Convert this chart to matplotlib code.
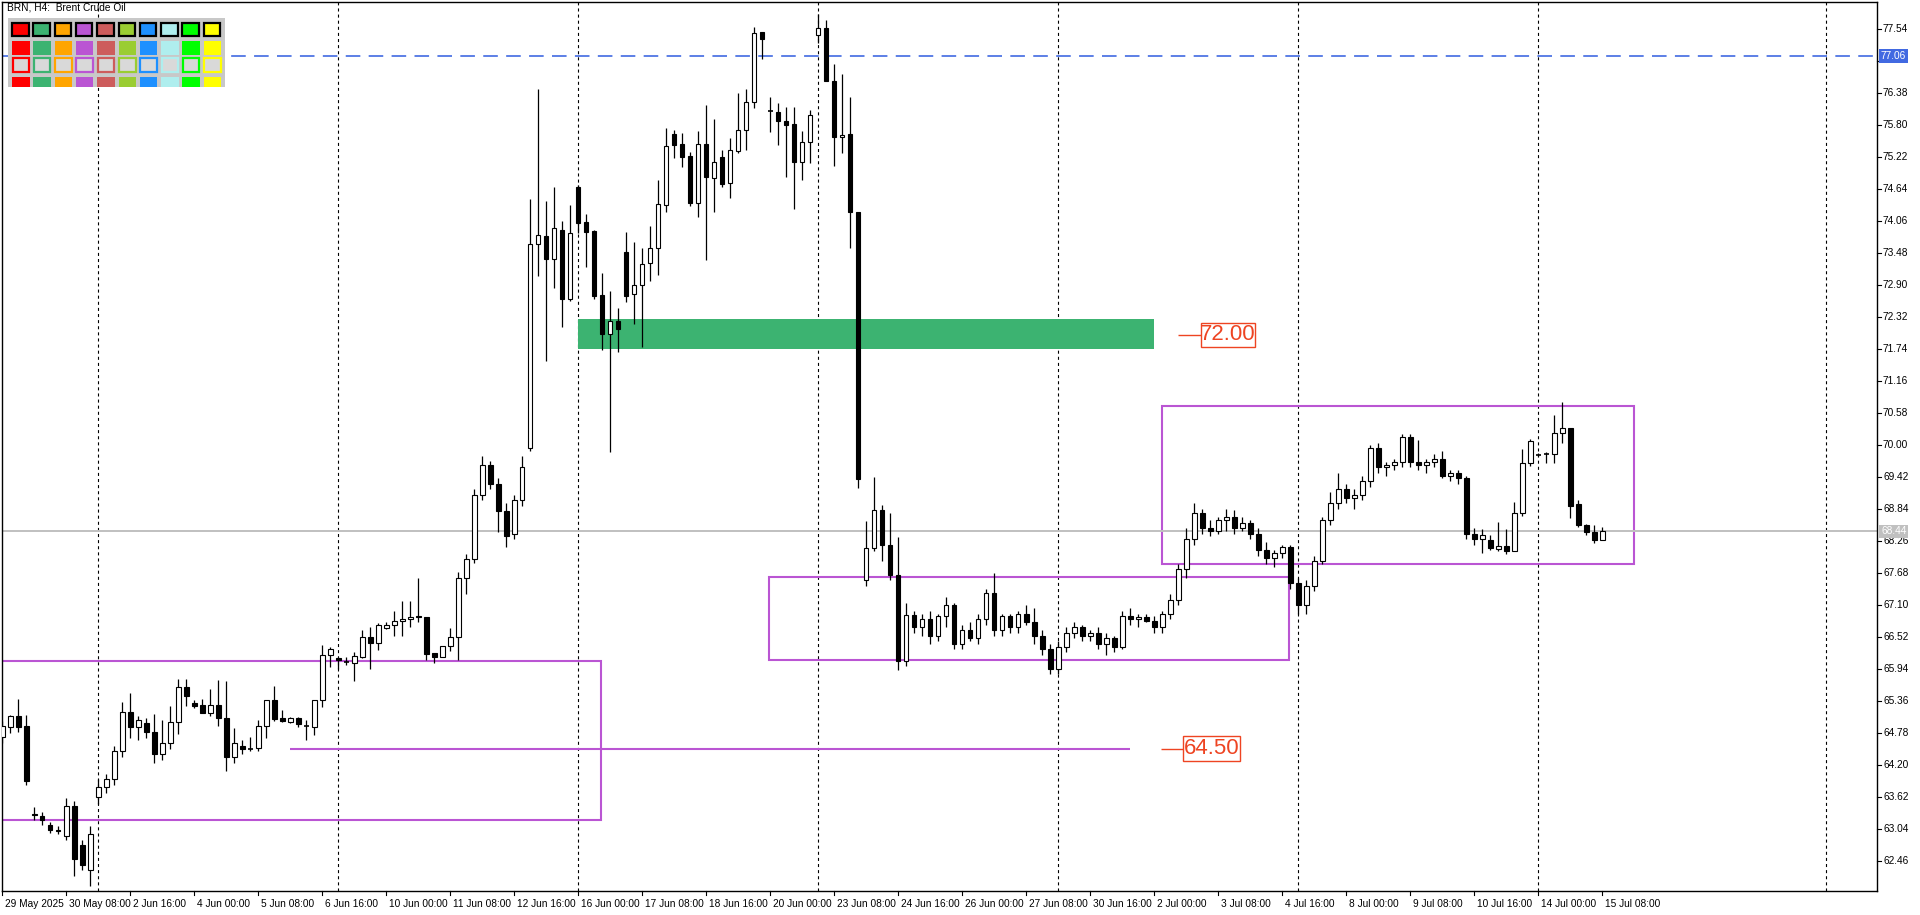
import matplotlib
matplotlib.use('Agg')
import matplotlib.pyplot as plt
from matplotlib.patches import Rectangle
import numpy as np

plt.rcParams['lines.scale_dashes'] = False
FONT = ['Liberation Sans', 'DejaVu Sans']
NARROW = ['Liberation Sans Narrow', 'Liberation Sans', 'DejaVu Sans']

# BRN H4 candles, bar 0 = 29 May 00:00
opens = [64.72, 64.90, 65.10, 64.91, 63.32, 63.28, 63.12, 63.02, 62.92, 63.46,
         62.75, 62.30, 63.62, 63.80, 63.95, 64.45, 65.16, 64.89, 64.96, 64.80,
         64.40, 64.60, 64.98, 65.61, 65.33, 65.29, 65.15, 65.29, 65.06, 64.35,
         64.55, 64.50, 64.52, 64.91, 65.38, 65.05, 64.99, 65.05, 64.92, 64.90,
         65.38, 66.19, 66.14, 66.08, 66.06, 66.17, 66.52, 66.41, 66.69, 66.74,
         66.81, 66.85, 66.90, 66.88, 66.23, 66.17, 66.36, 66.52, 67.60, 67.93,
         69.10, 69.65, 69.30, 68.80, 68.40, 69.00, 69.95, 73.64, 73.79, 73.38,
         73.91, 72.66, 74.69, 74.04, 73.88, 72.72, 72.02, 72.25, 73.50, 72.75,
         72.90, 73.30, 73.57, 74.35, 75.64, 75.46, 75.24, 74.40, 75.47, 74.85,
         75.22, 74.76, 75.34, 75.71, 76.22, 77.49, 76.06, 76.05, 75.87, 75.82,
         75.13, 75.49, 77.43, 77.56, 76.60, 75.59, 75.64, 74.23, 67.55, 68.13,
         68.82, 68.20, 67.65, 66.09, 66.92, 66.70, 66.85, 66.55, 66.90, 67.10,
         66.40, 66.65, 66.50, 66.85, 67.32, 66.65, 66.90, 66.70, 66.95, 66.80,
         66.55, 66.30, 65.95, 66.35, 66.60, 66.70, 66.55, 66.60, 66.40, 66.50,
         66.35, 66.90, 66.85, 66.88, 66.82, 66.70, 66.95, 67.20, 67.75, 68.30,
         68.78, 68.50, 68.45, 68.65, 68.70, 68.50, 68.60, 68.40, 68.10, 67.95,
         68.05, 68.15, 67.50, 67.10, 67.45, 67.90, 68.65, 68.95, 69.20, 69.05,
         69.10, 69.35, 69.95, 69.60, 69.65, 69.70, 70.15, 69.70, 69.65, 69.70,
         69.75, 69.45, 69.50, 69.40, 68.40, 68.31, 68.28, 68.12, 68.17, 68.09,
         68.77, 69.67, 69.82, 69.84, 69.85, 70.23, 70.31, 68.93, 68.55, 68.42,
         68.29]
highs = [65.00, 65.12, 65.40, 65.11, 63.45, 63.35, 63.18, 63.10, 63.60, 63.55,
         62.85, 63.10, 63.95, 64.05, 64.55, 65.34, 65.51, 65.09, 65.05, 65.13,
         65.02, 65.27, 65.76, 65.76, 65.38, 65.40, 65.58, 65.75, 65.72, 64.87,
         64.65, 64.72, 65.02, 65.38, 65.64, 65.20, 65.08, 65.08, 65.02, 65.38,
         66.38, 66.35, 66.17, 66.16, 66.26, 66.65, 66.70, 66.77, 66.79, 67.00,
         67.18, 67.18, 67.59, 66.89, 66.24, 66.37, 66.68, 67.71, 68.03, 69.20,
         69.80, 69.72, 69.40, 68.95, 69.10, 69.80, 74.46, 76.45, 74.42, 74.69,
         74.06, 74.35, 74.72, 74.20, 73.90, 73.12, 72.80, 72.49, 73.86, 73.68,
         73.57, 73.97, 74.81, 75.75, 75.72, 75.66, 75.32, 75.70, 76.17, 75.91,
         75.35, 75.57, 76.39, 76.46, 77.58, 77.49, 76.31, 76.20, 76.13, 76.13,
         75.70, 76.08, 77.82, 77.71, 76.91, 76.73, 76.31, 74.23, 68.62, 69.42,
         68.91, 68.77, 68.34, 67.14, 67.00, 66.95, 67.00, 66.95, 67.25, 67.15,
         66.75, 66.80, 66.95, 67.40, 67.68, 66.95, 66.95, 67.00, 67.10, 67.05,
         66.65, 66.40, 66.45, 66.70, 66.80, 66.75, 66.65, 66.70, 66.60, 66.55,
         67.00, 67.05, 66.95, 66.95, 66.90, 67.00, 67.30, 67.85, 68.50, 68.95,
         68.85, 68.65, 68.70, 68.85, 68.83, 68.70, 68.65, 68.50, 68.25, 68.10,
         68.20, 68.20, 67.60, 67.55, 68.00, 68.70, 69.15, 69.49, 69.30, 69.20,
         69.45, 70.00, 70.05, 69.70, 69.75, 70.20, 70.20, 70.10, 69.75, 69.85,
         69.90, 69.55, 69.55, 69.45, 68.50, 68.49, 68.37, 68.61, 68.49, 68.98,
         69.93, 70.11, 69.86, 69.88, 70.55, 70.78, 70.31, 69.01, 68.57, 68.55,
         68.51]
lows = [64.60, 64.78, 64.81, 63.85, 63.20, 63.12, 62.98, 62.95, 62.85, 62.20,
        62.30, 62.02, 63.50, 63.70, 63.85, 64.35, 64.70, 64.66, 64.70, 64.25,
        64.30, 64.50, 64.76, 65.28, 65.24, 65.14, 65.10, 64.92, 64.10, 64.25,
        64.40, 64.45, 64.45, 64.69, 65.00, 64.99, 64.96, 64.89, 64.66, 64.75,
        65.25, 65.99, 65.95, 66.01, 65.73, 66.14, 65.95, 66.29, 66.67, 66.55,
        66.55, 66.71, 66.79, 66.11, 66.06, 66.16, 66.28, 66.11, 67.31, 67.86,
        69.00, 69.20, 68.42, 68.15, 68.30, 68.90, 69.90, 73.06, 71.53, 72.85,
        72.14, 72.62, 73.85, 73.24, 72.66, 71.72, 69.87, 71.69, 72.60, 72.20,
        71.79, 72.97, 73.09, 74.23, 75.20, 75.05, 74.34, 74.14, 73.35, 74.23,
        74.69, 74.49, 75.30, 75.36, 76.12, 77.01, 75.68, 75.45, 74.87, 74.29,
        74.80, 75.12, 77.30, 76.61, 75.07, 75.29, 73.58, 69.23, 67.45, 68.09,
        67.90, 67.55, 65.92, 66.00, 66.60, 66.55, 66.40, 66.45, 66.70, 66.30,
        66.30, 66.45, 66.40, 66.75, 66.55, 66.55, 66.60, 66.60, 66.75, 66.40,
        66.20, 65.85, 65.85, 66.25, 66.50, 66.45, 66.45, 66.30, 66.20, 66.25,
        66.30, 66.75, 66.70, 66.80, 66.60, 66.60, 66.85, 67.10, 67.60, 68.20,
        68.40, 68.35, 68.40, 68.45, 68.40, 68.45, 68.30, 68.00, 67.85, 67.80,
        67.95, 67.40, 66.95, 66.95, 67.35, 67.85, 68.55, 68.85, 68.95, 68.85,
        69.00, 69.25, 69.50, 69.45, 69.55, 69.60, 69.60, 69.55, 69.50, 69.60,
        69.40, 69.35, 69.30, 68.30, 68.20, 68.04, 68.10, 68.09, 68.03, 68.08,
        68.72, 69.63, 69.80, 69.67, 69.67, 70.05, 68.69, 68.52, 68.38, 68.22,
        68.28]
closes = [64.91, 65.10, 64.90, 63.92, 63.30, 63.20, 63.02, 63.00, 63.46, 62.50,
          62.40, 62.95, 63.80, 63.95, 64.45, 65.16, 64.89, 65.02, 64.80, 64.40,
          64.60, 64.99, 65.61, 65.46, 65.28, 65.15, 65.29, 65.05, 64.35, 64.60,
          64.50, 64.52, 64.91, 65.38, 65.04, 65.01, 65.05, 64.94, 64.92, 65.38,
          66.20, 66.31, 66.11, 66.06, 66.18, 66.52, 66.41, 66.74, 66.75, 66.82,
          66.85, 66.89, 66.88, 66.21, 66.17, 66.37, 66.52, 67.60, 67.93, 69.10,
          69.65, 69.30, 68.80, 68.35, 69.00, 69.60, 73.64, 73.81, 73.38, 73.93,
          72.66, 73.84, 74.03, 73.87, 72.71, 72.02, 72.25, 72.11, 72.71, 72.90,
          73.28, 73.57, 74.37, 75.42, 75.45, 75.23, 74.40, 75.47, 74.87, 75.13,
          74.74, 75.35, 75.71, 76.22, 77.47, 77.37, 76.05, 75.87, 75.81, 75.14,
          75.49, 75.98, 77.57, 76.61, 75.59, 75.63, 74.22, 69.39, 68.13, 68.82,
          68.20, 67.65, 66.09, 66.92, 66.70, 66.85, 66.55, 66.90, 67.10, 66.40,
          66.65, 66.50, 66.85, 67.32, 66.65, 66.90, 66.70, 66.95, 66.80, 66.55,
          66.30, 65.95, 66.35, 66.60, 66.70, 66.55, 66.60, 66.40, 66.50, 66.35,
          66.90, 66.85, 66.88, 66.82, 66.70, 66.95, 67.20, 67.75, 68.30, 68.78,
          68.50, 68.45, 68.65, 68.70, 68.50, 68.60, 68.40, 68.10, 67.95, 68.05,
          68.15, 67.50, 67.10, 67.45, 67.90, 68.65, 68.95, 69.20, 69.05, 69.10,
          69.35, 69.95, 69.60, 69.65, 69.70, 70.15, 69.70, 69.65, 69.70, 69.75,
          69.45, 69.50, 69.40, 68.40, 68.30, 68.37, 68.13, 68.17, 68.09, 68.77,
          69.67, 70.07, 69.83, 69.85, 70.23, 70.31, 68.90, 68.55, 68.42, 68.29,
          68.44]

time_bars = [0] + list(range(8, 201, 8))
time_labels = ['29 May 2025', '30 May 08:00', '2 Jun 16:00', '4 Jun 00:00', '5 Jun 08:00',
               '6 Jun 16:00', '10 Jun 00:00', '11 Jun 08:00', '12 Jun 16:00', '16 Jun 00:00',
               '17 Jun 08:00', '18 Jun 16:00', '20 Jun 00:00', '23 Jun 08:00', '24 Jun 16:00',
               '26 Jun 00:00', '27 Jun 08:00', '30 Jun 16:00', '2 Jul 00:00', '3 Jul 08:00',
               '4 Jul 16:00', '8 Jul 00:00', '9 Jul 08:00', '10 Jul 16:00', '14 Jul 00:00',
               '15 Jul 08:00']
grid_bars = [12, 42, 72, 102, 132, 162, 192, 228]
# 76.96 sits under the bid tag on the scale, so it is not written
price_ticks = [round(77.54 - 0.58 * k, 2) for k in range(27)]
hidden_ticks = [76.96]

palette = ['#FF0000', '#3CB371', '#FFA500', '#BA55D3', '#CD5C5C',
           '#9ACD32', '#1E90FF', '#AFEEEE', '#00FF00', '#FFFF00']

bid_line = 77.06
last_price = 68.44
zone_green = (72, 144, 71.75, 72.29)
boxes = [(-2, 74.8, 63.21, 66.09), (95.8, 160.8, 66.11, 67.62), (145, 204, 67.85, 70.71)]
level_line = (36, 141, 64.50)
level_tags = [('72.00', 72.00, 146.96, 149.84, 156.6), ('64.50', 64.50, 144.8, 147.6, 154.7)]

W, H = 1920, 915
fig = plt.figure(figsize=(19.2, 9.15), dpi=100)
px_l, px_r, px_t, px_b = 2, 1877, 2, 891
ax = fig.add_axes([px_l / W, 1 - px_b / H, (px_r - px_l) / W, (px_b - px_t) / H])
bar_px, x0_px = 8.0, 2.3
ax.set_xlim((px_l - x0_px) / bar_px, (px_r - x0_px) / bar_px)
p_ref, y_ref, ppx = 77.54, 29.3, 55.17
ax.set_ylim(p_ref - (px_b - y_ref) / ppx, p_ref + (y_ref - px_t) / ppx)
ax.set_xticks([])
ax.set_yticks([])
for s in ax.spines.values():
    s.set_linewidth(1.0)
    s.set_color('black')

# vertical dotted grid
for g in grid_bars:
    ax.axvline(g, color='black', lw=0.8, linestyle=(0, (2.2, 2.2)), zorder=1)

# zones and boxes
gx0, gx1, gy0, gy1 = zone_green
ax.add_patch(Rectangle((gx0, gy0), gx1 - gx0, gy1 - gy0, fc='#3CB371', ec='none', zorder=2))
for bx0, bx1, by0, by1 in boxes:
    ax.add_patch(Rectangle((bx0, by0), bx1 - bx0, by1 - by0, fc='none', ec='#BA55D3', lw=1.5, zorder=2))
ax.hlines(level_line[2], level_line[0], level_line[1], color='#BA55D3', lw=1.5, zorder=2)

# price lines
ax.axhline(last_price, color='#C0C0C0', lw=1.4, zorder=2)
ax.axhline(bid_line, color='#4169E1', lw=1.2, linestyle=(0, (10.5, 6)), zorder=2)

# candles
o = np.array(opens)
h = np.array(highs)
l = np.array(lows)
c = np.array(closes)
x = np.arange(len(o))
ax.vlines(x, l, h, color='black', lw=0.9, zorder=3)
bw = 0.55
for i in range(len(o)):
    if abs(c[i] - o[i]) < 0.02:
        ax.hlines(o[i], i - bw / 2, i + bw / 2, color='black', lw=1.2, zorder=4)
        continue
    face = 'white' if c[i] > o[i] else 'black'
    lo = min(o[i], c[i])
    ax.add_patch(Rectangle((i - bw / 2, lo), bw, abs(c[i] - o[i]), fc=face, ec='black', lw=0.8, zorder=4))

# level tags
tag_col = '#EE4422'
for txt, lvl, lx0, bx0, bx1 in level_tags:
    ax.hlines(lvl, lx0, bx0, color=tag_col, lw=1.0, zorder=5)
    ax.add_patch(Rectangle((bx0, lvl - 0.225), bx1 - bx0, 0.45, fc='white', ec=tag_col, lw=1.0, zorder=5))
    ax.text((bx0 + bx1) / 2, lvl, txt, color=tag_col, fontsize=16, family=NARROW,
            ha='center', va='center', zorder=6)

# right price scale
ytr = ax.get_yaxis_transform()
for p in price_ticks:
    ax.plot([1.0, 1.0 + 4 / 1875], [p, p], color='black', lw=0.8, transform=ytr, clip_on=False)
    if p in hidden_ticks:
        continue
    ax.text(1.0 + 6 / 1875, p, '%.2f' % p, transform=ytr, fontsize=7.3, family=FONT,
            ha='left', va='center', clip_on=False, zorder=3)
for p, bg in [(bid_line, '#4169E1'), (last_price, '#C0C0C0')]:
    ax.text(1.0 + 4 / 1875, p, '%.2f' % p, transform=ytr, fontsize=7.3, family=FONT,
            color='white', ha='left', va='center', clip_on=False, zorder=8,
            bbox=dict(boxstyle='square,pad=0.18', fc=bg, ec='none'))

# time scale
xtr = ax.get_xaxis_transform()
for b, t in zip(time_bars, time_labels):
    ax.plot([b, b], [0, -4 / 889], color='black', lw=0.8, transform=xtr, clip_on=False)
    ax.text(b + 0.3, -13 / 889, t, transform=xtr, fontsize=7.3, family=FONT,
            ha='left', va='center', clip_on=False)

# palette panel top-left
pal = fig.add_axes([0, 0, 1, 1], zorder=5)
pal.set_xlim(0, W)
pal.set_ylim(H, 0)
pal.axis('off')
pal.text(7, 8, 'BRN, H4:  Brent Crude Oil', fontsize=7.3, family=FONT, va='center', ha='left')
pal.add_patch(Rectangle((8, 18), 217, 69, fc='#C8C8C8', ec='none'))
for k, col in enumerate(palette):
    px = 12 + 21.3 * k
    pal.add_patch(Rectangle((px, 22.5), 16.5, 13.5, fc=col, ec='black', lw=1.6))
    pal.add_patch(Rectangle((px, 40.5), 17.5, 14.5, fc=col, ec='none'))
    pal.add_patch(Rectangle((px + 0.5, 58), 16.5, 13.5, fc='#D9D9D9', ec=col, lw=1.6))
    pal.add_patch(Rectangle((px, 76.5), 17.5, 10, fc=col, ec='none'))

fig.savefig('out.png', dpi=100, facecolor='white')
